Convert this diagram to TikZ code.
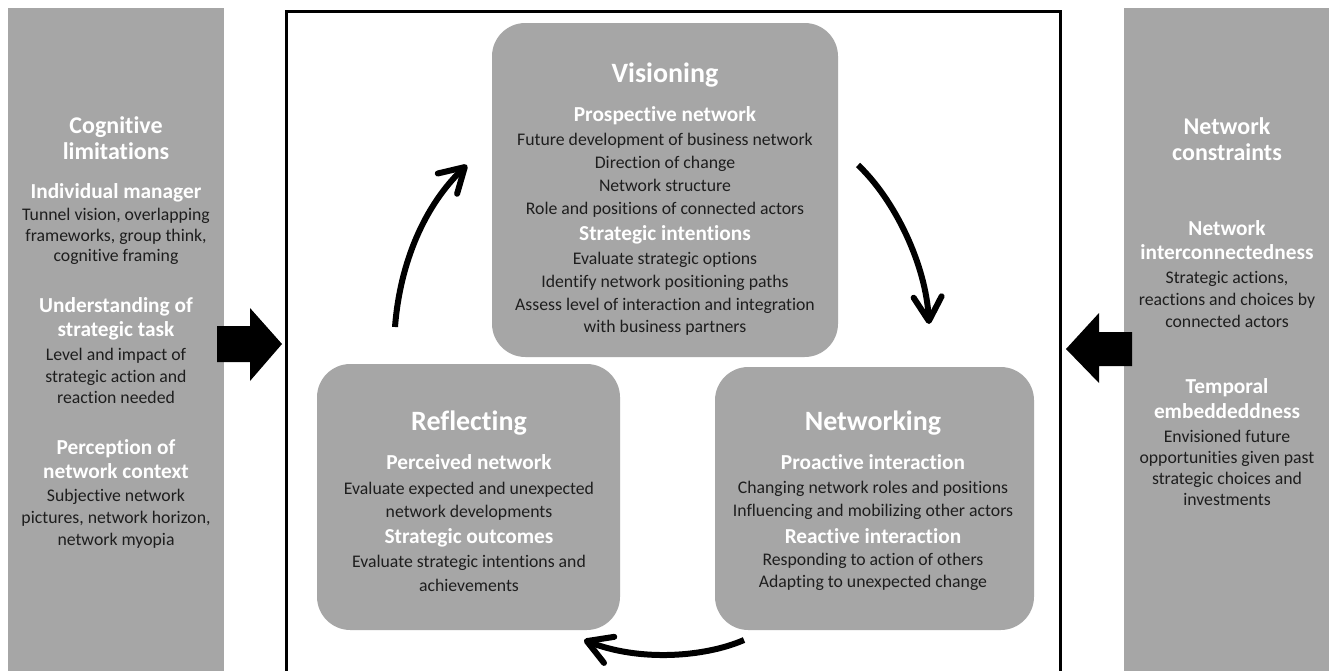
\documentclass[tikz,border=0pt]{standalone}
\usepackage{fontspec}
\setmainfont{Carlito}[Ligatures={NoCommon,NoRequired,NoContextual},Contextuals=NoAlternate]
\usetikzlibrary{arrows.meta}
\definecolor{panelgray}{RGB}{166,166,166}
\definecolor{bodytext}{RGB}{30,30,30}
\tikzset{
  panel/.style={fill=panelgray, draw=none, inner sep=0pt},
  phase/.style={fill=panelgray, draw=none, rounded corners=25pt, inner sep=0pt},
  ttl/.style={anchor=base, text=white, inner sep=0pt, font=\fontsize{21}{25}\selectfont\bfseries},
  hd/.style={anchor=base, text=white, inner sep=0pt, font=\fontsize{18}{22}\selectfont\bfseries},
  sub/.style={anchor=base, text=white, inner sep=0pt, font=\fontsize{16}{19}\selectfont\bfseries},
  bd/.style={anchor=base, text=bodytext, inner sep=0pt, font=\fontsize{13.3}{16}\selectfont},
  cyc/.style={line width=4.5pt, -{Straight Barb[length=18pt,width=21pt,round]}},
  blockarrow/.style={fill=black, draw=none}
}
\begin{document}
\begin{tikzpicture}[x=0.75pt,y=-0.75pt]
\useasboundingbox (0,0) rectangle (1329,671);
\fill[white] (0,0) rectangle (1329,671);
% side panels
\node[panel, minimum width=162pt, minimum height=497.25pt] (lp) at (116,339.5) {};
\node[panel, minimum width=153.75pt, minimum height=497.25pt] (rp) at (1226.5,339.5) {};
% frame
\coordinate (fbl) at (286.5,671);
\coordinate (ftl) at (286.5,11.5);
\coordinate (ftr) at (1060,11.5);
\coordinate (fbr) at (1060,671);
\draw[line width=2.25pt] (fbl) -- (ftl) -- (ftr) -- (fbr);
% block arrows
\fill[blockarrow] (217,326) -- (250,326) -- (250,308) -- (282,344) -- (250,381) -- (250,362) -- (217,362) -- cycle;
\fill[blockarrow] (1132,332) -- (1099,332) -- (1099,313) -- (1066,349) -- (1099,383) -- (1099,366) -- (1132,366) -- cycle;
% phase boxes
\node[phase, minimum width=259.5pt, minimum height=250.5pt] (vis) at (665,190) {};
\node[phase, minimum width=227.25pt, minimum height=199.5pt] (ref) at (468.5,497) {};
\node[phase, minimum width=239.25pt, minimum height=197.25pt] (net) at (874.5,498.5) {};
% cycle arrows
\coordinate (a1s) at (395,327);
\coordinate (a1e) at (467,165);
\coordinate (a2s) at (858,165);
\coordinate (a2e) at (929,324);
\coordinate (a3s) at (744,640);
\coordinate (a3e) at (584,640);
\draw[cyc] (a1s) .. controls (400,262) and (425,205) .. (a1e);
\draw[cyc] (a2s) .. controls (895,200) and (926,265) .. (a2e);
\draw[cyc] (a3s) .. controls (705,657) and (640,662) .. (a3e);
% left panel text
\node[hd] (l1) at (116,133) {Cognitive};
\node[hd] (l2) at (116,159) {limitations};
\node[sub] (l3) at (116,198) {Individual manager};
\node[bd] (l4) at (116,220) {Tunnel vision, overlapping};
\node[bd] (l5) at (116,241) {frameworks, group think,};
\node[bd] (l6) at (116,261) {cognitive framing};
\node[sub] (l7) at (116,312) {Understanding of};
\node[sub] (l8) at (116,336) {strategic task};
\node[bd] (l9) at (116,360) {Level and impact of};
\node[bd] (l10) at (116,382) {strategic action and};
\node[bd] (l11) at (116,403) {reaction needed};
\node[sub] (l12) at (116,454) {Perception of};
\node[sub] (l13) at (116,478) {network context};
\node[bd] (l14) at (116,501) {Subjective network};
\node[bd] (l15) at (116,523) {pictures, network horizon,};
\node[bd] (l16) at (116,545) {network myopia};
% right panel text
\node[hd] (r1) at (1227,134) {Network};
\node[hd] (r2) at (1227,160) {constraints};
\node[sub] (r3) at (1227,235) {Network};
\node[sub] (r4) at (1227,259) {interconnectedness};
\node[bd] (r5) at (1227,283) {Strategic actions,};
\node[bd] (r6) at (1227,305) {reactions and choices by};
\node[bd] (r7) at (1227,327) {connected actors};
\node[sub] (r8) at (1227,393) {Temporal};
\node[sub] (r9) at (1227,418) {embeddeddness};
\node[bd] (r10) at (1227,442) {Envisioned future};
\node[bd] (r11) at (1227,463) {opportunities given past};
\node[bd] (r12) at (1227,484) {strategic choices and};
\node[bd] (r13) at (1227,505) {investments};
% visioning text
\node[ttl] (v1) at (665,82) {Visioning};
\node[sub] (v2) at (665,121) {Prospective network};
\node[bd] (v3) at (665,145) {Future development of business network};
\node[bd] (v4) at (665,168) {Direction of change};
\node[bd] (v5) at (665,191) {Network structure};
\node[bd] (v6) at (665,214) {Role and positions of connected actors};
\node[sub] (v7) at (665,240) {Strategic intentions};
\node[bd] (v8) at (665,264) {Evaluate strategic options};
\node[bd] (v9) at (665,287) {Identify network positioning paths};
\node[bd] (v10) at (665,310) {Assess level of interaction and integration};
\node[bd] (v11) at (665,332) {with business partners};
% reflecting text
\node[ttl] (f1) at (469,430) {Reflecting};
\node[sub] (f2) at (469,469) {Perceived network};
\node[bd] (f3) at (469,494) {Evaluate expected and unexpected};
\node[bd] (f4) at (469,517) {network developments};
\node[sub] (f5) at (469,543) {Strategic outcomes};
\node[bd] (f6) at (469,567) {Evaluate strategic intentions and};
\node[bd] (f7) at (469,591) {achievements};
% networking text
\node[ttl] (n1) at (873,430) {Networking};
\node[sub] (n2) at (873,469) {Proactive interaction};
\node[bd] (n3) at (873,493) {Changing network roles and positions};
\node[bd] (n4) at (873,516) {Influencing and mobilizing other actors};
\node[sub] (n5) at (873,543) {Reactive interaction};
\node[bd] (n6) at (873,565) {Responding to action of others};
\node[bd] (n7) at (873,587) {Adapting to unexpected change};
\end{tikzpicture}
\end{document}
